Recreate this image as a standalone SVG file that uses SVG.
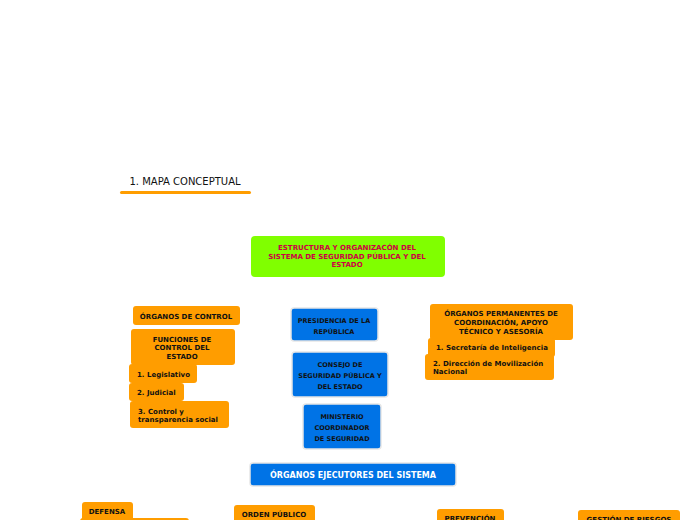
<svg xmlns="http://www.w3.org/2000/svg" width="696" height="520" viewBox="0 0 696 520">
<defs><style>
text{font-family:Verdana,"DejaVu Sans",sans-serif;font-weight:bold;font-size:7px;text-anchor:middle;fill:#111}
.o{fill:#ff9d00}
.b{fill:#0073e6;stroke:#e6e6e6;stroke-width:1.5}
.l{text-anchor:start}
</style></defs>
<rect width="696" height="520" fill="#fff"/>
<g id="title"><text x="185" y="185" style="font-family:'DejaVu Sans',sans-serif;font-weight:normal;font-size:10px">1. MAPA CONCEPTUAL</text><rect x="120" y="191" width="131" height="3" rx="1.5" fill="#ff9d00"/></g>
<g id="connectors"></g>
<g id="root"><rect x="251" y="236" width="194" height="41" rx="4" fill="#80ff00"/>
<text x="347" y="250" fill="#cc0044" style="fill:#cc0044">ESTRUCTURA Y ORGANIZACÓN DEL</text>
<text x="347" y="259" style="fill:#cc0044">SISTEMA DE SEGURIDAD PÚBLICA Y DEL</text>
<text x="347" y="267" style="fill:#cc0044">ESTADO</text></g>
<g id="n1"><rect class="o" x="133" y="306" width="107" height="19" rx="3"/><text x="186" y="319">ÓRGANOS DE CONTROL</text></g>
<g id="n2"><rect class="o" x="131" y="329" width="104" height="36" rx="3"/><text x="182" y="342">FUNCIONES DE</text><text x="182" y="350">CONTROL DEL</text><text x="182" y="359">ESTADO</text></g>
<g id="n3"><rect class="o" x="129" y="364" width="68" height="19" rx="3"/><text class="l" x="137" y="377">1. Legislativo</text></g>
<g id="n4"><rect class="o" x="129" y="383" width="55" height="18" rx="3"/><text class="l" x="137" y="395">2. Judicial</text></g>
<g id="n5"><rect class="o" x="130" y="401" width="99" height="27" rx="3"/><text class="l" x="138" y="414">3. Control y</text><text class="l" x="138" y="422">transparencia social</text></g>
<g id="n6"><rect class="b" x="291" y="308" width="87" height="33" rx="3"/><text x="334" y="323" style="font-size:6.5px">PRESIDENCIA DE LA</text><text x="334" y="334" style="font-size:6.5px">REPÚBLICA</text></g>
<g id="n7"><rect class="b" x="292" y="352" width="96" height="45" rx="3"/><text x="340" y="367" style="font-size:6.5px">CONSEJO DE</text><text x="340" y="378" style="font-size:6.5px">SEGURIDAD PÚBLICA Y</text><text x="340" y="389" style="font-size:6.5px">DEL ESTADO</text></g>
<g id="n8"><rect class="b" x="303" y="404" width="78" height="45" rx="3"/><text x="342" y="419" style="font-size:6.5px">MINISTERIO</text><text x="342" y="430" style="font-size:6.5px">COORDINADOR</text><text x="342" y="441" style="font-size:6.5px">DE SEGURIDAD</text></g>
<g id="n9"><rect class="o" x="430" y="304" width="143" height="36" rx="3"/><text x="501" y="316">ÓRGANOS PERMANENTES DE</text><text x="501" y="325">COORDINACIÓN, APOYO</text><text x="501" y="334">TÉCNICO Y ASESORÍA</text></g>
<g id="n10"><rect class="o" x="428" y="338" width="127" height="19" rx="3"/><text class="l" x="436" y="350">1. Secretaría de Inteligencia</text></g>
<g id="n11"><rect class="o" x="425" y="354" width="129" height="26" rx="3"/><text class="l" x="433" y="366">2. Dirección de Movilización</text><text class="l" x="433" y="374">Nacional</text></g>
<g id="n12"><rect class="b" x="250" y="463" width="206" height="23" rx="3"/><text x="353" y="478" style="fill:#fff;font-size:8px">ÓRGANOS EJECUTORES DEL SISTEMA</text></g>
<g id="n13"><rect class="o" x="82" y="502" width="51" height="22" rx="3"/><text x="107" y="514">DEFENSA</text><rect class="o" x="80" y="518" width="109" height="10" rx="3"/></g>
<g id="n14"><rect class="o" x="234" y="505" width="81" height="22" rx="3"/><text x="274" y="517">ORDEN PÚBLICO</text></g>
<g id="n15"><rect class="o" x="437" y="509" width="67" height="20" rx="3"/><text x="470" y="521">PREVENCIÓN</text></g>
<g id="n16"><rect class="o" x="578" y="510" width="102" height="20" rx="3"/><text x="629" y="522">GESTIÓN DE RIESGOS</text></g>
</svg>
